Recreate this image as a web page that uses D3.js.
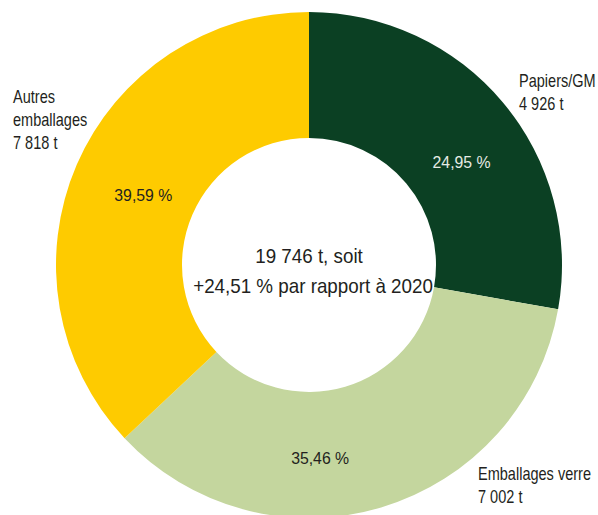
<!DOCTYPE html>
<html>
<head>
<meta charset="utf-8">
<script src="https://cdn.jsdelivr.net/npm/d3@7"></script>
<style>
  body { margin: 0; background: #fff; }
  svg text { font-family: "Liberation Sans Narrow", "Liberation Sans", sans-serif; fill: #231f20; }
</style>
</head>
<body>
<div id="chart"></div>
<script>
// categories, drawn order clockwise from 12 o'clock
var categories = ['Papiers/GM', 'Emballages verre', 'Autres emballages'];
var tonnes = ['4 926 t', '7 002 t', '7 818 t'];
var pctLabels = ['24,95 %', '35,46 %', '39,59 %'];
// slice sizes
var sliceShares = [27.8, 35.2, 37.0];
var colors = ['#0b4023', '#c4d69e', '#fecb00'];
var centerLines = ['19 746 t, soit', '+24,51 % par rapport à 2020'];

var width = 598, height = 515;
var cx = 309, cy = 265, outerR = 253, innerR = 127;

var svg = d3.select('#chart').append('svg')
  .attr('width', width)
  .attr('height', height);

var g = svg.append('g')
  .attr('transform', 'translate(' + cx + ',' + cy + ')');

var pie = d3.pie().sort(null).value(function(d) { return d; });
var arc = d3.arc().innerRadius(innerR).outerRadius(outerR);

var arcs = pie(sliceShares);

g.selectAll('path.slice')
  .data(arcs)
  .enter().append('path')
    .attr('class', 'slice')
    .attr('d', arc)
    .attr('fill', function(d, i) { return colors[i]; });

// condensed text helper (no narrow font installed, so squeeze horizontally)
function squeezed(parent, x, y, sx) {
  return parent.append('text')
    .attr('transform', 'translate(' + x + ',' + y + ') scale(' + sx + ',1)');
}

// percentage labels inside the ring (angle, radius)
var pctLayout = [[56, 184], [176.7, 193], [293, 180]];
pctLabels.forEach(function(d, i) {
  var a = pctLayout[i][0] * Math.PI / 180, r = pctLayout[i][1];
  squeezed(g, r * Math.sin(a), -r * Math.cos(a) + 6, 0.93)
    .attr('text-anchor', 'middle')
    .style('font-size', '17px')
    .style('fill', i == 0 ? '#e6ebe3' : '#231f20')
    .text(d);
});

// centre text
squeezed(g, 0, -2, 0.94)
  .attr('text-anchor', 'middle')
  .style('font-size', '20px')
  .text(centerLines[0]);
squeezed(g, 4, 28, 0.94)
  .attr('text-anchor', 'middle')
  .style('font-size', '20px')
  .text(centerLines[1]);

// outer labels
function outerLabel(x, y, lines) {
  var t = squeezed(svg, x, y, 0.83)
    .style('font-size', '17.5px');
  lines.forEach(function(l, i) {
    t.append('tspan').attr('x', 0).attr('dy', i == 0 ? 0 : 23).text(l);
  });
}
outerLabel(519, 87, [categories[0], tonnes[0]]);
outerLabel(478, 480, [categories[1], tonnes[1]]);
outerLabel(13, 103, ['Autres', 'emballages', tonnes[2]]);
</script>
</body>
</html>
